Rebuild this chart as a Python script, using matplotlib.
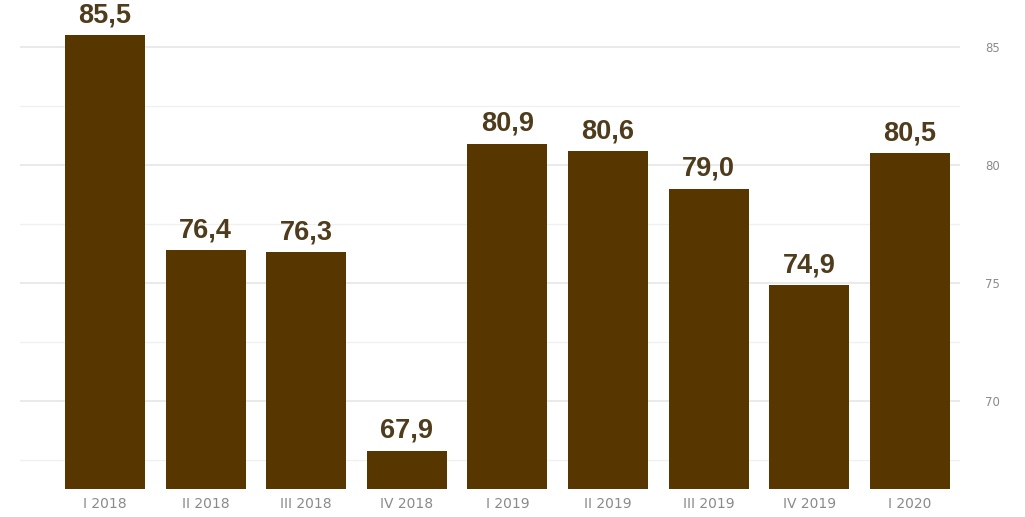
import numpy as np
import matplotlib
matplotlib.use("Agg")
import matplotlib.pyplot as plt
from matplotlib.ticker import MultipleLocator

categories = ["I 2018", "II 2018", "III 2018", "IV 2018", "I 2019",
              "II 2019", "III 2019", "IV 2019", "I 2020"]
values = [85.5, 76.4, 76.3, 67.9, 80.9, 80.6, 79.0, 74.9, 80.5]
y_ticks = [70, 75, 80, 85]

bar_color = "#573600"
label_color = "#4f3c1c"

fig = plt.figure(figsize=(10.25, 5.17), dpi=100)
ax = fig.add_axes([20 / 1025, 28 / 517, 940 / 1025, 489 / 517])

x = np.arange(len(categories))
ax.bar(x, values, width=0.795, color=bar_color, zorder=3)

for xi, v in zip(x, values):
    ax.annotate(f"{v:.1f}".replace(".", ","), (xi, v), xytext=(0, 5),
                textcoords="offset points", ha="center", va="bottom",
                fontsize=19.5, fontweight="bold", color=label_color,
                family="Liberation Sans")

ax.set_xlim(-0.845, 8.5)
ax.set_ylim(66.27, 87.0)

ax.yaxis.tick_right()
ax.set_yticks(y_ticks)
ax.yaxis.set_minor_locator(MultipleLocator(2.5))
ax.grid(axis="y", which="major", color="#e6e6e6", linewidth=1.2, zorder=0)
ax.grid(axis="y", which="minor", color="#f0f0f0", linewidth=1.0, zorder=0)
ax.tick_params(axis="y", which="both", length=0, pad=18, labelsize=8.5,
               labelcolor="#8a8a8a")

ax.set_xticks(x)
ax.set_xticklabels(categories)
ax.tick_params(axis="x", length=0, pad=6, labelsize=10, labelcolor="#8a8a8a")

for s in ax.spines.values():
    s.set_visible(False)

fig.savefig("out.png", dpi=100)
